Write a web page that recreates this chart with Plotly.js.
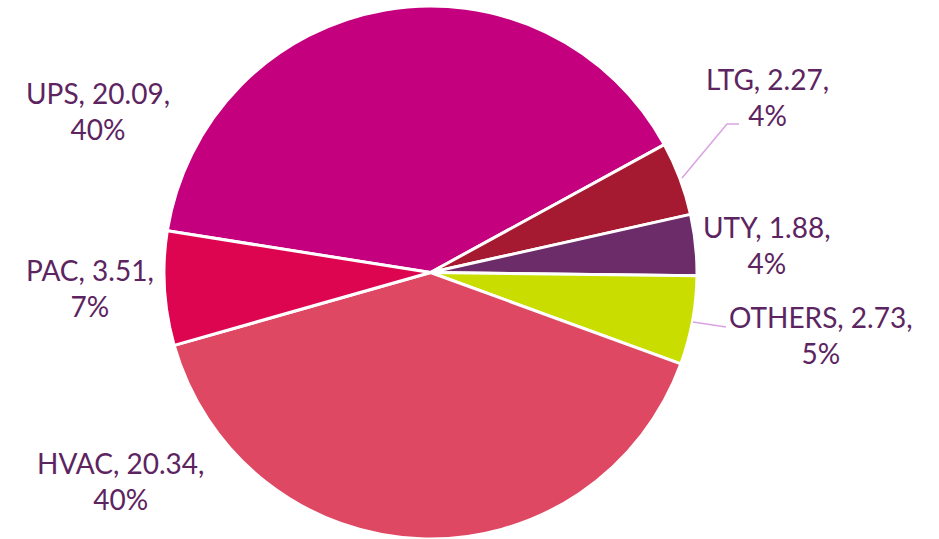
<!DOCTYPE html>
<html>
<head>
<meta charset="utf-8">
<script src="https://cdn.plot.ly/plotly-3.0.1.min.js"></script>
<style>html,body{margin:0;padding:0;background:#fff;}#chart{width:939px;height:539px;}</style>
</head>
<body>
<div id="chart"></div>
<script>
// Data
const categories = ["UPS", "LTG", "UTY", "OTHERS", "HVAC", "PAC"];
const values = [20.09, 2.27, 1.88, 2.73, 20.34, 3.51];

// Styles
const sliceColors = ["#C4007F", "#A51A30", "#6C2B69", "#C9DE00", "#DF4862", "#DD0550"];
const textColor = "#5C2460";
const leaderColor = "#D9A3E2";
// Label placement (pixels in the 939x539 page), same order as categories
const labelPos = [[98, 111], [767, 97], [767, 245], [821, 335], [120, 481], [90, 288]];

const W = 939, H = 539;
const total = values.reduce((a, b) => a + b, 0);

const annotations = categories.map((c, i) => ({
  text: c + ", " + values[i].toFixed(2) + ",<br>" + Math.round(values[i] / total * 100) + "%",
  x: labelPos[i][0] / W,
  y: 1 - labelPos[i][1] / H,
  xref: "paper", yref: "paper",
  xanchor: "center", yanchor: "middle",
  align: "center",
  showarrow: false,
  font: {family: "Lato, 'Open Sans', sans-serif", size: 28, color: textColor}
}));

const px = (x) => x / W, py = (y) => 1 - y / H;
const shapes = [
  {type: "path", xref: "paper", yref: "paper",
   path: "M" + px(682) + "," + py(178) + " L" + px(727) + "," + py(124) + " L" + px(739) + "," + py(124),
   line: {color: leaderColor, width: 1.5}},
  {type: "path", xref: "paper", yref: "paper",
   path: "M" + px(693) + "," + py(322) + " L" + px(726) + "," + py(327),
   line: {color: leaderColor, width: 1.5}}
];

const trace = {
  type: "pie",
  labels: categories,
  values: values,
  sort: false,
  direction: "clockwise",
  rotation: -81,
  textinfo: "none",
  hoverinfo: "label+value+percent",
  marker: {colors: sliceColors, line: {color: "#ffffff", width: 3}},
  domain: {x: [164 / W, 697 / W], y: [0, 533 / H]},
  showlegend: false
};

const layout = {
  width: W, height: H,
  margin: {l: 0, r: 0, t: 0, b: 0},
  paper_bgcolor: "#ffffff",
  showlegend: false,
  annotations: annotations,
  shapes: shapes
};

Plotly.newPlot("chart", [trace], layout, {displayModeBar: false, staticPlot: true});
</script>
</body>
</html>
